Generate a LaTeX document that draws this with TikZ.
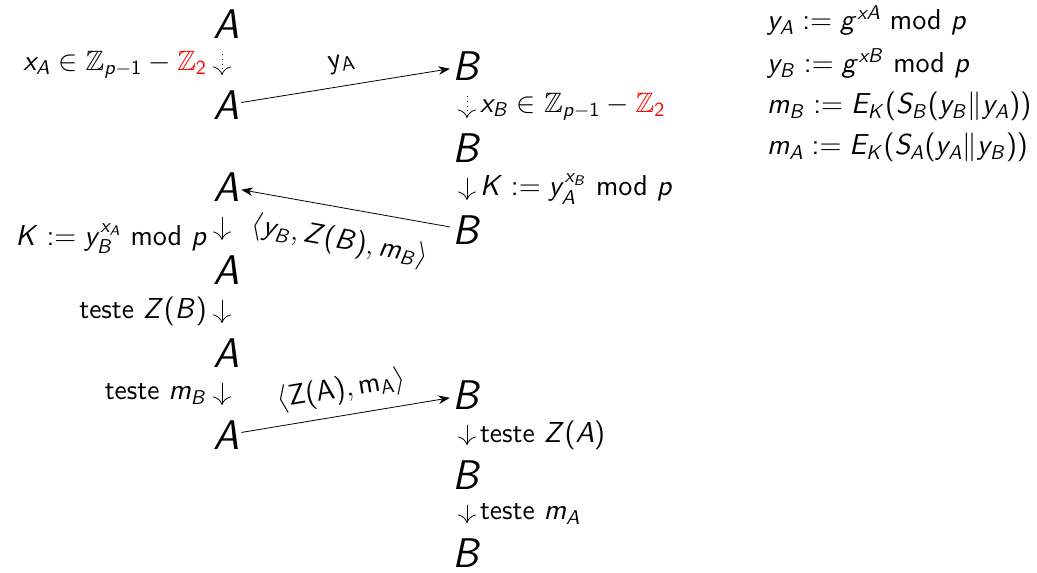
\documentclass[tikz,border=0pt]{standalone}
\usepackage{amsmath}
\usepackage{amssymb}
\usepackage{tikz}
\usetikzlibrary{arrows.meta, positioning}

% sans serif math, as on the slides
\DeclareSymbolFont{operators}{OT1}{cmss}{m}{n}
\DeclareSymbolFont{sfslanted}{OT1}{cmss}{m}{sl}
\DeclareMathSymbol{A}{\mathalpha}{sfslanted}{`A}
\DeclareMathSymbol{B}{\mathalpha}{sfslanted}{`B}
\DeclareMathSymbol{E}{\mathalpha}{sfslanted}{`E}
\DeclareMathSymbol{K}{\mathalpha}{sfslanted}{`K}
\DeclareMathSymbol{S}{\mathalpha}{sfslanted}{`S}
\DeclareMathSymbol{Z}{\mathalpha}{sfslanted}{`Z}
\DeclareMathSymbol{g}{\mathalpha}{sfslanted}{`g}
\DeclareMathSymbol{m}{\mathalpha}{sfslanted}{`m}
\DeclareMathSymbol{p}{\mathalpha}{sfslanted}{`p}
\DeclareMathSymbol{x}{\mathalpha}{sfslanted}{`x}
\DeclareMathSymbol{y}{\mathalpha}{sfslanted}{`y}
\newcommand{\md}{\ \mathrm{mod}\ }

\begin{document}
\begin{tikzpicture}[x=0.5pt, y=-0.5pt,
    party/.style={font=\fontsize{22}{26}\selectfont, inner sep=1pt},
    lbl/.style={font=\sffamily\fontsize{14}{17}\selectfont},
    msg/.style={-{Stealth[length=2mm, width=1.5mm]}},
    local/.style={-{To[length=1.5mm]}, shorten <=15pt, shorten >=15pt},
    secret/.style={local, dotted}
]
    \useasboundingbox (0, 0) rectangle (1037, 572);

    % Party A
    \node[party] (A1) at (226, 24) {$A$};
    \node[party] (A2) at (226, 105) {$A$};
    \node[party] (A3) at (226, 187) {$A$};
    \node[party] (A4) at (226, 270) {$A$};
    \node[party] (A5) at (226, 353) {$A$};
    \node[party] (A6) at (226, 435) {$A$};

    % Party B
    \node[party] (B1) at (467, 66) {$B$};
    \node[party] (B2) at (467, 148) {$B$};
    \node[party] (B3) at (467, 230) {$B$};
    \node[party] (B4) at (467, 395) {$B$};
    \node[party] (B5) at (467, 475) {$B$};
    \node[party] (B6) at (467, 553) {$B$};

    % Local steps of A
    \draw[secret] ([xshift=-2pt]A1.center) -- ([xshift=-2pt]A2.center)
        node[midway, left=4pt, lbl] {$x_A \in \mathbb{Z}_{p-1} - \textcolor{red}{\mathbb{Z}_2}$};
    \draw[local] ([xshift=-2pt]A3.center) -- ([xshift=-2pt]A4.center)
        node[midway, left=4pt, lbl, yshift=-5pt] {$K := y_B^{x_A} \md p$};
    \draw[local] ([xshift=-2pt]A4.center) -- ([xshift=-2pt]A5.center)
        node[midway, left=4pt, lbl] {teste $Z(B)$};
    \draw[local] ([xshift=-2pt]A5.center) -- ([xshift=-2pt]A6.center)
        node[midway, left=4pt, lbl] {teste $m_B$};

    % Local steps of B
    \draw[secret] (B1.center) -- (B2.center)
        node[midway, right=3pt, lbl] {$x_B \in \mathbb{Z}_{p-1} - \textcolor{red}{\mathbb{Z}_2}$};
    \draw[local] (B2.center) -- (B3.center)
        node[midway, right=3pt, lbl] {$K := y_A^{x_B} \md p$};
    \draw[local] (B4.center) -- (B5.center)
        node[midway, right=3pt, lbl] {teste $Z(A)$};
    \draw[local] (B5.center) -- (B6.center)
        node[midway, right=3pt, lbl] {teste $m_A$};

    % Messages
    \draw[msg] (A2) -- (B1) node[midway, sloped, above=3pt, lbl] {$\mathsf{y_A}$};
    \draw[msg] (B3) -- (A3)
        node[midway, sloped, below=6pt, lbl] {$\langle y_B, Z(B), m_B\rangle$};
    \draw[msg] (A6) -- (B4)
        node[midway, sloped, above=2pt, lbl] {$\langle\mathsf{Z(A), m_A}\rangle$};

    % Definitions
    \node[lbl, anchor=base west] (defyA) at (760, 30) {$y_A := g^{xA} \md p$};
    \node[lbl, anchor=base west] (defyB) at (760, 73) {$y_B := g^{xB} \md p$};
    \node[lbl, anchor=base west] (defmB) at (760, 114) {$m_B := E_K(S_B(y_B \| y_A))$};
    \node[lbl, anchor=base west] (defmA) at (760, 155) {$m_A := E_K(S_A(y_A \| y_B))$};
\end{tikzpicture}
\end{document}
